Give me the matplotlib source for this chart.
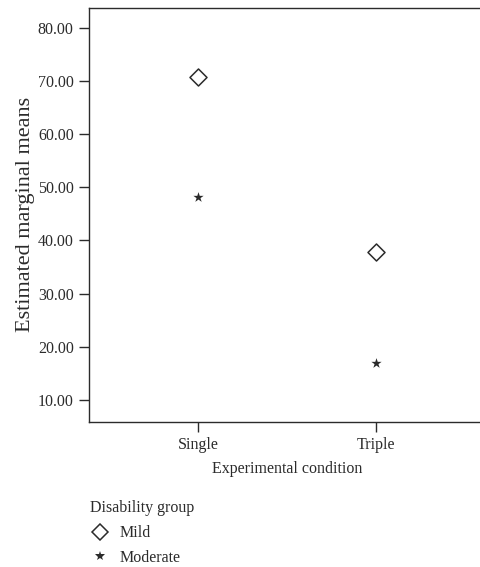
import numpy as np
import matplotlib.pyplot as plt
from matplotlib.lines import Line2D

# data
conditions = ["Single", "Triple"]
groups = ["Mild", "Moderate"]
mild_means = [70.8, 37.8]
moderate_means = [48.2, 17.0]
y_ticks = [10, 20, 30, 40, 50, 60, 70, 80]

plt.rcParams['font.family'] = ['Liberation Serif', 'DejaVu Serif']
plt.rcParams['font.size'] = 11.5
ink = "#2b2b2b"

fig = plt.figure(figsize=(4.81, 5.67), dpi=100)
ax = fig.add_axes([89/481, 1 - 421.7/567, 1 - 89/481 + 0.01, (421.7 - 8)/567])

x = np.arange(1, len(conditions) + 1)
ax.scatter(x, mild_means, marker="D", s=75, facecolors="white", edgecolors=ink, linewidths=1.1, zorder=3)
ax.scatter(x, moderate_means, marker="*", s=60, color=ink, linewidths=0, zorder=3)

ax.set_xlim(0.387, 2.567 + 0.05)
ax.set_ylim(5.86, 83.8)
ax.set_xticks(x)
ax.set_xticklabels(conditions)
ax.set_yticks(y_ticks)
ax.set_yticklabels(["%.2f" % v for v in y_ticks])
ax.spines["right"].set_visible(False)
for s in ["left", "top", "bottom"]:
    ax.spines[s].set_color(ink)
    ax.spines[s].set_linewidth(1.0)
ax.tick_params(direction="out", length=7, width=1.0, colors=ink, labelcolor=ink, pad=4)

ax.set_xlabel("Experimental condition", color=ink, labelpad=6)
ax.set_ylabel("Estimated marginal means", color=ink, fontsize=16, labelpad=2)

handles = [
    Line2D([], [], marker="D", linestyle="none", markersize=8, markerfacecolor="white",
           markeredgecolor=ink, markeredgewidth=1.1),
    Line2D([], [], marker="*", linestyle="none", markersize=7, color=ink, markeredgewidth=0),
]
leg = fig.legend(handles, groups, title="Disability group", loc="upper left",
                 bbox_to_anchor=(76/481, 1 - 486/567), frameon=False,
                 handletextpad=0.6, labelspacing=0.55, handlelength=1.2,
                 fontsize=11.5, title_fontsize=11.5)
leg._legend_box.align = "left"
for t in leg.get_texts():
    t.set_color(ink)
leg.get_title().set_color(ink)

fig.savefig("out.png", dpi=100)
